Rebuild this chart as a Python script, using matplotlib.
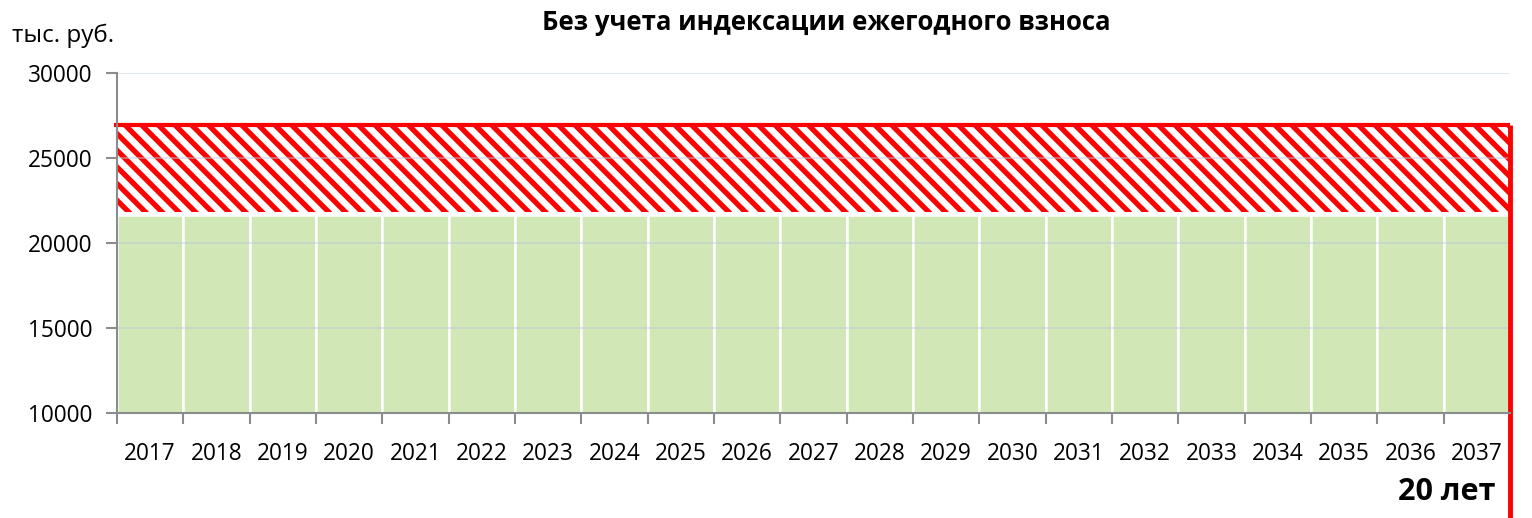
import numpy as np
import matplotlib.pyplot as plt

plt.rcParams['font.family'] = ['Open Sans', 'DejaVu Sans']
plt.rcParams['hatch.linewidth'] = 3.8
plt.rcParams['hatch.color'] = 'red'

years = [str(y) for y in range(2017, 2038)]
base = [21650] * 21          # green part
hatch_low = [21800] * 21     # bottom of hatched band
hatch_high = [26950] * 21    # top of hatched band
yticks = [10000, 15000, 20000, 25000, 30000]

fig = plt.figure(figsize=[15.32, 5.18], dpi=100)
ax = fig.add_axes([117/1532, 1 - 413/518, (1510 - 117)/1532, 340/518])

x = np.arange(len(years))
ax.bar(x, np.array(base) - 10000, bottom=10000, width=1.0,
       color='#d1e7b6', edgecolor='white', linewidth=1.8, zorder=1)
ax.bar(x, np.array(hatch_high) - np.array(hatch_low), bottom=hatch_low, width=1.0,
       facecolor='none', edgecolor='red', linewidth=0, hatch='\\\\', zorder=1)

# red top line and right border
ax.plot([x[0] - 0.55, x[-1] + 0.5], [hatch_high[0], hatch_high[-1]],
        color='red', lw=3, solid_capstyle='butt', zorder=3, clip_on=False)
ax.vlines(x[-1] + 0.5, 2000, hatch_high[-1], color='red', lw=3.5, zorder=3, clip_on=False)

ax.set_xlim(-0.5, len(years) - 0.5)
ax.set_ylim(10000, 30000)
ax.set_yticks(yticks)
ax.set_xticks(x)
ax.set_xticklabels(years)
ax.set_xticks(np.arange(len(years) + 1) - 0.5, minor=True)

ax.set_axisbelow(False)
ax.grid(axis='y', color='#b9cae0', lw=1.2, alpha=0.55, zorder=2)
for s in ['top', 'right']:
    ax.spines[s].set_visible(False)
for s in ['left', 'bottom']:
    ax.spines[s].set_color('#8c8c8c')
    ax.spines[s].set_linewidth(1.5)
    ax.spines[s].set_zorder(4)

ax.tick_params(axis='y', direction='out', length=8, width=1.5, color='#8c8c8c',
               labelsize=16.3, pad=10)
ax.tick_params(axis='x', which='major', length=0, labelsize=16.3, pad=21)
ax.tick_params(axis='x', which='minor', direction='out', length=8, width=1.5, color='#8c8c8c')

fig.text(12/1532, 1 - 36/518, 'тыс. руб.', fontsize=17.5, va='center', ha='left')
fig.text(826/1532, 1 - 23/518, 'Без учета индексации ежегодного взноса',
         fontsize=18.5, fontweight='bold', va='center', ha='center')
fig.text(1496/1532, 1 - 492/518, '20 лет', fontsize=22, fontweight='bold',
         va='center', ha='right')

fig.savefig('out.png', dpi=100)
